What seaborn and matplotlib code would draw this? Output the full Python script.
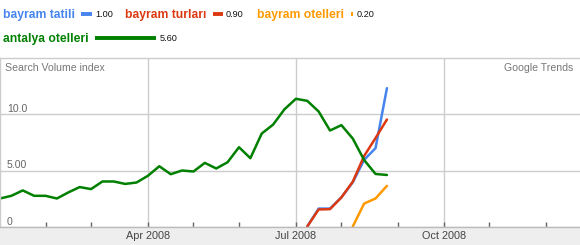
import matplotlib
matplotlib.use("Agg")
import matplotlib.pyplot as plt
import pandas as pd
import seaborn as sns
from matplotlib.patches import Rectangle

# ---------------- data ----------------
series_names = ["bayram tatili", "bayram turları", "bayram otelleri", "antalya otelleri"]
series_colors = ["#4684ee", "#dc3912", "#ff9900", "#008000"]
legend_values = [1.00, 0.90, 0.20, 5.60]
legend_labels = ["1.00", "0.90", "0.20", "5.60"]

weeks_antalya = list(range(0, 35))
antalya = [2.5, 2.74, 3.22, 2.74, 2.74, 2.5, 3.04, 3.52, 3.34, 4.02,
           4.02, 3.8, 3.93, 4.53, 5.38, 4.67, 5.0, 4.91, 5.68, 5.18,
           5.74, 7.08, 6.1, 8.3, 9.1, 10.47, 11.4, 11.22, 10.27, 8.57,
           9.05, 7.85, 5.93, 4.69, 4.6]
weeks_tatili = list(range(27, 35))
tatili = [0.0, 1.6, 1.6, 2.6, 3.95, 5.95, 7.0, 12.35]
weeks_turlari = list(range(27, 35))
turlari = [0.0, 1.52, 1.55, 2.6, 4.0, 6.3, 7.9, 9.55]
weeks_otelleri = list(range(31, 35))
otelleri = [0.0, 2.05, 2.5, 3.63]

ytick_values = [0, 5, 10]
ytick_labels = ["0", "5.00", "10.0"]
xtick_major = [13, 26, 39]
xtick_labels = ["Apr 2008", "Jul 2008", "Oct 2008"]
xtick_minor = [4, 8, 17, 21, 30, 35, 43, 48]

# ---------------- build long table ----------------
frames = []
for name, wk, vals in zip(series_names,
                          [weeks_tatili, weeks_turlari, weeks_otelleri, weeks_antalya],
                          [tatili, turlari, otelleri, antalya]):
    frames.append(pd.DataFrame({"week": wk, "value": vals, "series": name}))
df = pd.concat(frames, ignore_index=True)

# ---------------- style ----------------
sns.set_theme(style="white")
plt.rcParams["font.family"] = ["Liberation Sans", "DejaVu Sans"]

W, H = 580, 245
fig = plt.figure(figsize=(W / 100, H / 100), dpi=100)
fig.patch.set_facecolor("white")

ax_top_px, ax_bot_px = 58.0, 226.5
fig.patches.append(Rectangle((0, 0), 1, (H - ax_bot_px) / H, transform=fig.transFigure,
                             facecolor="#eeeeee", edgecolor="none", zorder=-5))
ax = fig.add_axes([0, (H - ax_bot_px) / H, 1, (ax_bot_px - ax_top_px) / H])
ax.set_facecolor("white")

sns.lineplot(data=df, x="week", y="value", hue="series", hue_order=series_names,
             palette=dict(zip(series_names, series_colors)), linewidth=1.8,
             legend=False, ax=ax, estimator=None, sort=True)

ax.set_xlim(0, W / 11.38)
ax.set_ylim(0, (ax_bot_px - ax_top_px) / 11.2)
ax.set_xlabel("")
ax.set_ylabel("")

# grid
ax.set_yticks(ytick_values)
ax.set_yticklabels(ytick_labels)
ax.set_xticks(xtick_major)
ax.set_xticklabels(xtick_labels)
ax.set_xticks(xtick_minor, minor=True)
ax.grid(True, which="major", color="#cccccc", linewidth=1.0)
ax.set_axisbelow(True)

ax.tick_params(axis="y", which="both", left=False, labelleft=True, length=0, pad=-5,
               labelsize=7.6, labelcolor="#666666")
for lab in ax.get_yticklabels():
    lab.set_horizontalalignment("left")
    lab.set_verticalalignment("bottom")
ax.tick_params(axis="x", which="both", bottom=True, labelbottom=True, direction="in",
               length=3.6, width=1.0, color="#666666", pad=3.2, labelsize=7.8,
               labelcolor="#444444")

for side in ["top", "left"]:
    ax.spines[side].set_color("#cccccc")
    ax.spines[side].set_linewidth(1.0)
ax.spines["right"].set_visible(False)
ax.spines["bottom"].set_color("#bbbbbb")
ax.spines["bottom"].set_linewidth(1.0)

axh = ax_bot_px - ax_top_px
ax.text(5.3 / W, 1 - 10.3 / axh, "Search Volume index", transform=ax.transAxes,
        ha="left", va="center", fontsize=7.6, color="#777777")
ax.text(573.3 / W, 1 - 10.3 / axh, "Google Trends", transform=ax.transAxes,
        ha="right", va="center", fontsize=7.6, color="#777777")

# ---------------- legend (pixel-coordinate overlay) ----------------
lg = fig.add_axes([0, 0, 1, 1], facecolor="none")
lg.set_xlim(0, W)
lg.set_ylim(H, 0)
lg.axis("off")

px_per_unit = 10.9
# (text x, bar x, value-label x, text baseline, bar y)
slots = [(2.7, 81, 95, 18.0, 14.3),
         (125, 212.7, 227, 18.0, 14.3),
         (256.7, 351, 356, 18.0, 14.3),
         (2.7, 95, 160, 42.0, 38.0)]
for name, col, val, vlab, (tx, bx, vx, ty, by) in zip(series_names, series_colors,
                                                      legend_values, legend_labels, slots):
    lg.text(tx, ty, name, ha="left", va="baseline", fontsize=8.7,
            fontweight="bold", color=col)
    lg.hlines(by, bx, bx + val * px_per_unit, colors=col, linewidth=2.8,
              capstyle="butt")
    lg.text(bx + val * px_per_unit + 3.5, ty - 1.2, vlab, ha="left", va="baseline",
            fontsize=6.6, color="#111111")

fig.savefig("out.png", dpi=100, facecolor="white")
